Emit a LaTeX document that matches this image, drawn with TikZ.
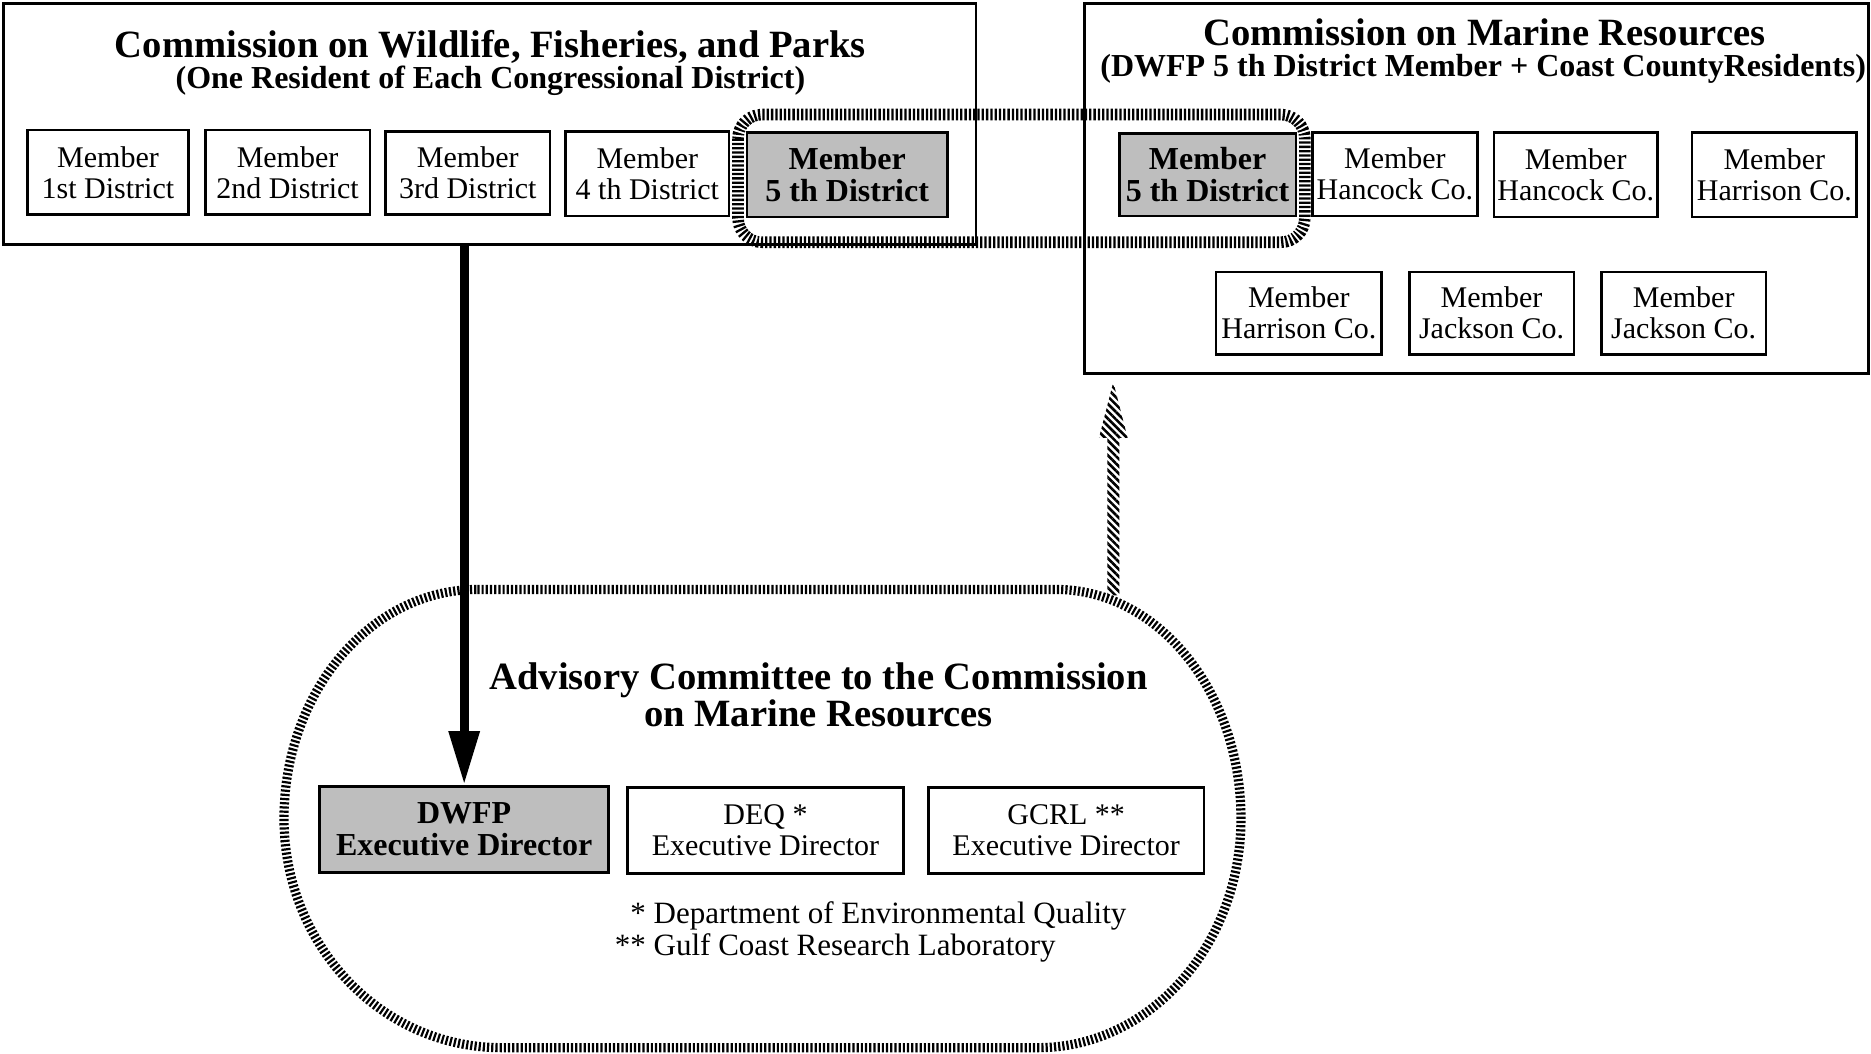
\documentclass[tikz,border=0pt]{standalone}
\usepackage{fontspec}
\setmainfont{Liberation Serif}
\usetikzlibrary{arrows.meta,fit,patterns.meta,calc}
\definecolor{boxgray}{RGB}{190,190,190}
\tikzset{
  frame/.style={draw, line width=1.3pt, inner sep=0pt},
  sz/.style 2 args={minimum width=#1*0.5966pt, minimum height=#2*0.5966pt},
  member/.style={draw, line width=1.3pt, inner sep=0pt, align=center, font=\fontsize{15}{15.5}\selectfont},
  keymember/.style={member, fill=boxgray, font=\fontsize{16}{16}\selectfont\bfseries},
  bigtitle/.style={font=\fontsize{19.3}{17.5}\selectfont\bfseries, align=center, inner sep=0pt},
  subtitle/.style={font=\fontsize{16}{16}\selectfont\bfseries, inner sep=0pt},
  stripeband/.style={line width=5.8pt, dash pattern=on 1.15pt off 1pt, rounded corners=12pt},
  ovalband/.style={line width=4.6pt, dash pattern=on 1.1pt off 1pt},
  mainarrow/.style={line width=4.6pt, -{Triangle[length=27pt,width=14.5pt]}},
  notes/.style={font=\fontsize{15.5}{16}\selectfont, inner sep=0pt},
}
\begin{document}
\begin{tikzpicture}[x=0.5966pt, y=0.5966pt]
\useasboundingbox (0,0) rectangle (1568,883);
\fill[white] (0,0) rectangle (1568,883);

% highlight band linking the two 5th district members
\draw[stripeband] (618.5,787) rectangle (1093.5,680);

% advisory committee oval
\draw[ovalband] (400,389) -- (885,389)
  arc[start angle=90, end angle=0, x radius=155, y radius=192]
  arc[start angle=0, end angle=-90, x radius=170, y radius=192]
  -- (420,5)
  arc[start angle=270, end angle=180, x radius=182, y radius=192]
  arc[start angle=180, end angle=90, x radius=162, y radius=192] -- cycle;

% big frames
\node[frame, fit={(3,880) (818,678)}] (wfp) {};
\node[frame, fit={(909,880) (1566,570)}] (cmr) {};

% titles
\node[bigtitle] (wfpt) at (411,844) {Commission on Wildlife, Fisheries, and Parks};
\node[subtitle] (wfps) at (411,815) {(One Resident of Each Congressional District)};
\node[bigtitle] (cmrt) at (1244,856) {Commission on Marine Resources};
\node[subtitle] (cmrs) at (1243,825) {(DWFP 5 th District Member + Coast CountyResidents)};
\node[bigtitle] (advt) at (686,301) {Advisory Committee to the Commission\\on Marine Resources};

% left members
\node[member, sz={135}{71}] (m1) at (90.5,738.5) {Member\\1st District};
\node[member, sz={138}{71}] (m2) at (241,738.5) {Member\\2nd District};
\node[member, sz={138}{70}] (m3) at (392,738) {Member\\3rd District};
\node[member, sz={137}{71}] (m4) at (542.5,737.5) {Member\\4 th District};
\node[keymember, sz={168}{71}] (m5) at (710,736.5) {Member\\5 th District};

% right members
\node[keymember, sz={148}{69}] (r1) at (1012,736.5) {Member\\5 th District};
\node[member, sz={138}{70}] (r2) at (1169,737) {Member\\Hancock Co.};
\node[member, sz={137}{71}] (r3) at (1320.5,736.5) {Member\\Hancock Co.};
\node[member, sz={138}{71}] (r4) at (1487,736.5) {Member\\Harrison Co.};
\node[member, sz={139}{69}] (r5) at (1088.5,620.5) {Member\\Harrison Co.};
\node[member, sz={138}{69}] (r6) at (1250,620.5) {Member\\Jackson Co.};
\node[member, sz={138}{69}] (r7) at (1411,620.5) {Member\\Jackson Co.};

% advisory members
\node[keymember, sz={242}{72}] (dwfp) at (389,188) {DWFP\\Executive Director};
\node[member, sz={231}{72}] (deq) at (641.5,187) {DEQ *\\Executive Director};
\node[member, sz={231}{72}] (gcrl) at (893.5,187) {GCRL **\\Executive Director};

\node[notes, anchor=west] (fn) at (515,101) {\begin{tabular}{@{}r@{\ }l@{}}{*} & Department of Environmental Quality\\\relax{**} & Gulf Coast Research Laboratory\end{tabular}};

% main arrow
\draw[mainarrow] (wfp.south -| dwfp.north) -- (dwfp.north);

% striped up arrow from the advisory committee to the marine commission
\coordinate (upstart) at (933,384);
\coordinate (uphead) at (933,516);
\coordinate (uptip) at (cmr.south -| upstart);
\fill[pattern={Lines[angle=-45,distance=2.6pt,line width=1.3pt]}]
  ($(upstart)+(-5,0)$) -- ($(uphead)+(-5,0)$) -- ($(uphead)+(-12,0)$)
  -- ($(uptip)+(0,-6)$) -- ($(uphead)+(12,0)$) -- ($(uphead)+(5,0)$)
  -- ($(upstart)+(5,0)$) -- cycle;
\end{tikzpicture}
\end{document}
